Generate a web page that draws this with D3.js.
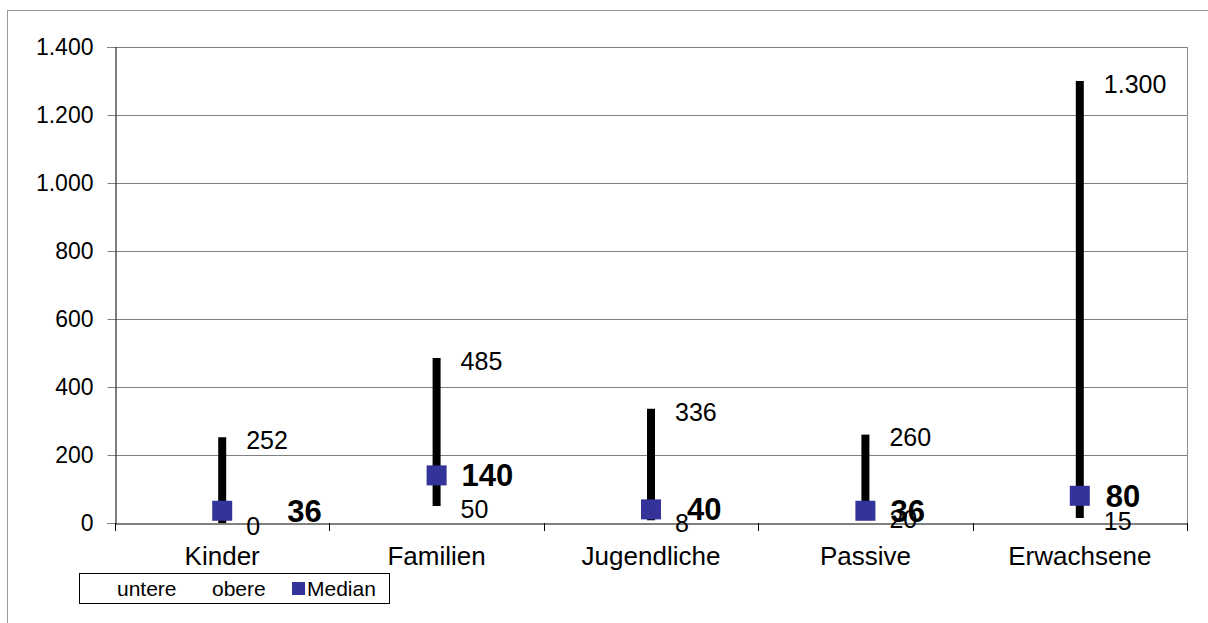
<!DOCTYPE html>
<html>
<head>
<meta charset="utf-8">
<script src="https://cdn.jsdelivr.net/npm/d3@7"></script>
<style>
  html, body { margin: 0; padding: 0; background: #fff; }
  svg { display: block; font-family: "Liberation Sans", Arial, sans-serif; }
</style>
</head>
<body>
<svg id="chart" width="1208" height="623"></svg>
<script>
// ---- Data ----
const categories = ["Kinder", "Familien", "Jugendliche", "Passive", "Erwachsene"];
const lowerValues = [0, 50, 8, 20, 15];        // untere
const upperValues = [252, 485, 336, 260, 1300]; // obere
const medianValues = [36, 140, 40, 36, 80];     // Median
const yTicks = [0, 200, 400, 600, 800, 1000, 1200, 1400];
const legendLabels = ["untere", "obere", "Median"];

// ---- Layout ----
const svg = d3.select("#chart");
const plot = { left: 115, right: 1187, top: 47, bottom: 523 };
const medianLabelNudge = [65, 25, 36, 25, 26];
const de = d3.formatLocale({ decimal: ",", thousands: ".", grouping: [3], currency: ["", " €"] });
const fmt = de.format(",d");
const FONT = "Liberation Sans, Arial, sans-serif";

const x = d3.scaleBand().domain(categories).range([plot.left, plot.right]).padding(0);
const y = d3.scaleLinear().domain([0, 1400]).range([plot.bottom, plot.top]);

// outer chart border
svg.append("rect").attr("x", 7.5).attr("y", 10.5).attr("width", 1210).attr("height", 630)
  .attr("fill", "none").attr("stroke", "#9a9a9a").attr("stroke-width", 1);

// gridlines
svg.append("g").selectAll("line").data(yTicks.filter(d => d > 0)).join("line")
  .attr("x1", plot.left).attr("x2", plot.right)
  .attr("y1", d => Math.round(y(d)) + 0.5).attr("y2", d => Math.round(y(d)) + 0.5)
  .attr("stroke", "#808080").attr("stroke-width", 1);

// right plot border
svg.append("line").attr("x1", plot.right + 0.5).attr("x2", plot.right + 0.5)
  .attr("y1", plot.top).attr("y2", plot.bottom + 8)
  .attr("stroke", "#8c8c8c");

// y axis
const yAxis = d3.axisLeft(y).tickValues(yTicks).tickFormat(fmt).tickSize(8).tickPadding(14);
const gy = svg.append("g").attr("transform", `translate(${plot.left + 0.5},0)`).call(yAxis);
gy.select(".domain").attr("stroke", "#000");
gy.selectAll(".tick line").attr("stroke", "#808080");
gy.selectAll(".tick text").attr("font-size", 23).attr("fill", "#000").attr("font-family", FONT);

// x axis
const xAxis = d3.axisBottom(x).tickSize(0).tickPadding(0);
const gx = svg.append("g").attr("transform", `translate(0,${plot.bottom + 0.5})`).call(xAxis);
gx.select(".domain").attr("stroke", "#000");
gx.selectAll(".tick text").attr("font-size", 26).attr("fill", "#000").attr("dy", 0)
  .attr("y", 41).attr("font-family", FONT);
// category separators
const bounds = categories.map(c => x(c)).concat([plot.right]);
svg.append("g").selectAll("line").data(bounds).join("line")
  .attr("x1", d => Math.round(d) + 0.5).attr("x2", d => Math.round(d) + 0.5)
  .attr("y1", plot.bottom).attr("y2", plot.bottom + 8)
  .attr("stroke", "#000");

// data
const rows = categories.map((c, i) => ({ c, lo: lowerValues[i], hi: upperValues[i], med: medianValues[i], i }));
const cx = d => x(d.c) + x.bandwidth() / 2;

const g = svg.append("g");
g.selectAll("line.range").data(rows).join("line").attr("class", "range")
  .attr("x1", cx).attr("x2", cx)
  .attr("y1", d => y(d.lo)).attr("y2", d => y(d.hi))
  .attr("stroke", "#000").attr("stroke-width", 8);

g.selectAll("rect.med").data(rows).join("rect").attr("class", "med")
  .attr("x", d => cx(d) - 10).attr("y", d => y(d.med) - 10)
  .attr("width", 20).attr("height", 20).attr("fill", "#333399");

const lab = svg.append("g").attr("font-family", FONT);
lab.selectAll("text.hi").data(rows).join("text").attr("class", "hi")
  .attr("x", d => cx(d) + 24).attr("y", d => y(d.hi) + 3).attr("dy", "0.35em")
  .attr("font-size", 25).text(d => fmt(d.hi));
lab.selectAll("text.lo").data(rows).join("text").attr("class", "lo")
  .attr("x", d => cx(d) + 24).attr("y", d => y(d.lo) + 3).attr("dy", "0.35em")
  .attr("font-size", 25).text(d => fmt(d.lo));
lab.selectAll("text.med").data(rows).join("text").attr("class", "med")
  .attr("x", d => cx(d) + medianLabelNudge[d.i]).attr("y", d => y(d.med)).attr("dy", "0.35em")
  .attr("font-size", 31).attr("font-weight", "bold").text(d => fmt(d.med));

// legend
const lg = svg.append("g").attr("font-family", FONT);
lg.append("rect").attr("x", 79.5).attr("y", 573.5).attr("width", 310).attr("height", 30)
  .attr("fill", "#fff").attr("stroke", "#000").attr("stroke-width", 1);
const legendX = [117, 212, 307];
lg.selectAll("text").data(legendLabels).join("text")
  .attr("x", (d, i) => legendX[i]).attr("y", 596).attr("font-size", 21).text(d => d);
lg.append("rect").attr("x", 292).attr("y", 582).attr("width", 13).attr("height", 13).attr("fill", "#333399");
</script>
</body>
</html>
